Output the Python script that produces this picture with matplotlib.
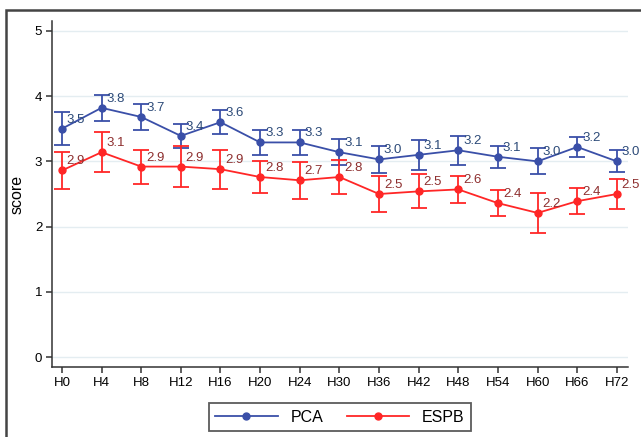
import matplotlib.pyplot as plt
from matplotlib.patches import Rectangle
from matplotlib.lines import Line2D

plt.rcParams['font.family'] = ['Liberation Sans', 'DejaVu Sans']

hours = ['H0', 'H4', 'H8', 'H12', 'H16', 'H20', 'H24', 'H30',
         'H36', 'H42', 'H48', 'H54', 'H60', 'H66', 'H72']
pca_mean = [3.50, 3.82, 3.68, 3.39, 3.60, 3.29, 3.29, 3.14,
            3.03, 3.10, 3.17, 3.07, 3.00, 3.22, 3.00]
pca_err = [0.25, 0.20, 0.20, 0.18, 0.18, 0.19, 0.19, 0.20,
           0.21, 0.23, 0.22, 0.17, 0.20, 0.15, 0.17]
espb_mean = [2.86, 3.14, 2.92, 2.92, 2.88, 2.76, 2.71, 2.76,
             2.50, 2.54, 2.57, 2.36, 2.21, 2.39, 2.50]
espb_err = [0.28, 0.31, 0.26, 0.31, 0.30, 0.24, 0.28, 0.26,
            0.27, 0.26, 0.21, 0.20, 0.30, 0.20, 0.23]

pca_color = '#3a4fa8'
espb_color = '#ff2626'
pca_lab = '#2c4a78'
espb_lab = '#8e2f2f'

fig = plt.figure(figsize=(6.41, 4.37), dpi=100)
ax = fig.add_axes([52 / 641, 1 - 367 / 437, 576 / 641, 346 / 437])

x = list(range(len(hours)))
for mean, err, col, lcol in [(pca_mean, pca_err, pca_color, pca_lab),
                             (espb_mean, espb_err, espb_color, espb_lab)]:
    ax.errorbar(x, mean, yerr=err, color=col, marker='o', markersize=5,
                linewidth=1.3, elinewidth=1.3, capsize=5.5, capthick=1.3, zorder=3)
    for xi, m in zip(x, mean):
        ax.annotate(f'{m:.1f}', (xi, m), xytext=(3.5, 6.5), textcoords='offset points',
                    ha='left', va='center', fontsize=9.5, color=lcol, zorder=4)

ax.set_xlim(-0.25, 14.28)
ax.set_ylim(-0.15, 5.15)
ax.set_xticks(x)
ax.set_xticklabels(hours)
ax.set_yticks([0, 1, 2, 3, 4, 5])
ax.yaxis.grid(True, color='#e4edf1', linewidth=1)
ax.set_axisbelow(True)
ax.tick_params(labelsize=9.5, length=4, width=1.1, color='#333333', pad=3)
for s in ['top', 'right']:
    ax.spines[s].set_visible(False)
for s in ['left', 'bottom']:
    ax.spines[s].set_color('#333333')
    ax.spines[s].set_linewidth(1.1)
ax.set_ylabel('score', fontsize=11.5, labelpad=7)

handles = [Line2D([], [], color=pca_color, marker='o', markersize=5, linewidth=1.3),
           Line2D([], [], color=espb_color, marker='o', markersize=5, linewidth=1.3)]
leg = fig.legend(handles, ['PCA', 'ESPB'], loc='center', bbox_to_anchor=(340 / 641, 1 - 417 / 437),
                 ncol=2, fontsize=11.5, frameon=True, fancybox=False, edgecolor='#333333',
                 handlelength=3.9, columnspacing=1.5, borderpad=0.4)
leg.get_frame().set_linewidth(1.3)

fig.patches.append(Rectangle((6 / 641, -0.1), 1.2, 1 - 10 / 437 + 0.1, transform=fig.transFigure,
                             fill=False, edgecolor='#444444', linewidth=1.8))

fig.savefig('out.png', dpi=100)
